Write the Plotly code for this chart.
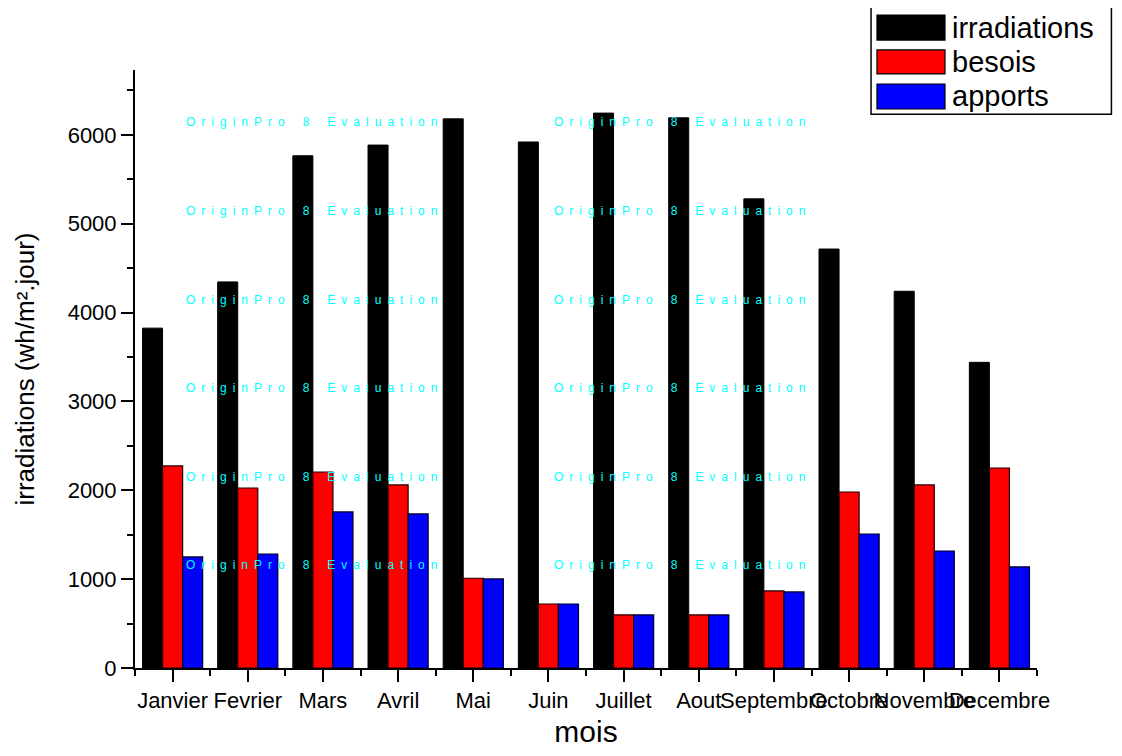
import plotly.graph_objects as go

mois = ["Janvier", "Fevrier", "Mars", "Avril", "Mai", "Juin", "Juillet",
        "Aout", "Septembre", "Octobre", "Novembre", "Decembre"]
irradiations = [3825, 4345, 5765, 5885, 6180, 5920, 6245, 6192, 5280, 4715, 4240, 3440]
besois = [2274, 2026, 2206, 2060, 1010, 720, 597, 597, 867, 1981, 2060, 2251]
apports = [1250, 1283, 1756, 1734, 1002, 720, 597, 597, 856, 1508, 1317, 1137]

x = list(range(1, len(mois) + 1))
font = "Arial, Liberation Sans, sans-serif"

fig = go.Figure()
fig.add_trace(go.Bar(x=x, y=irradiations, name="irradiations",
                     marker=dict(color="#000000", line=dict(color="#000000", width=1))))
fig.add_trace(go.Bar(x=x, y=besois, name="besois",
                     marker=dict(color="#ff0000", line=dict(color="#200000", width=1.2))))
fig.add_trace(go.Bar(x=x, y=apports, name="apports",
                     marker=dict(color="#0000ff", line=dict(color="#000020", width=1.2))))

# watermark of the original software
sp = "\u2002"
wm = sp.join("OriginPro") + sp * 3 + "8" + sp * 3 + sp.join("Evaluation")
annotations = []
for xp in [0.0543, 0.4623]:
    for yp in [0.913, 0.764, 0.615, 0.468, 0.319, 0.172]:
        annotations.append(dict(x=xp, y=yp, xref="paper", yref="paper", text=wm,
                                showarrow=False, xanchor="left", yanchor="middle",
                                font=dict(family=font, size=12, color="#00ffff")))

# legend drawn by hand, Origin style
shapes = [dict(type="rect", xref="paper", yref="paper", x0=0.816, x1=1.0825,
               y0=0.926, y1=1.105, line=dict(color="black", width=1.5),
               fillcolor="white", layer="above")]
legend_items = [("irradiations", "#000000", 1.0920, 1.0500),
                ("besois", "#ff0000", 1.0335, 0.9935),
                ("apports", "#0000ff", 0.9766, 0.9348)]
for name, col, y1, y0 in legend_items:
    shapes.append(dict(type="rect", xref="paper", yref="paper", x0=0.8226, x1=0.898,
                       y0=y0, y1=y1, fillcolor=col, line=dict(color="black", width=1.2),
                       layer="above"))
    annotations.append(dict(x=0.9035, y=(y0 + y1) / 2, xref="paper", yref="paper",
                            text=name, showarrow=False, xanchor="left", yanchor="middle",
                            font=dict(family=font, size=29, color="black")))

fig.update_layout(
    width=1106, height=740,
    margin=dict(l=127, r=77, t=62, b=80),
    paper_bgcolor="white", plot_bgcolor="white",
    barmode="group", bargap=0.2, bargroupgap=0,
    showlegend=False,
    font=dict(family=font, color="black"),
    shapes=shapes, annotations=annotations,
)
fig.update_xaxes(
    range=[0.5, 12.5], tickvals=x, ticktext=mois, tickangle=0, automargin=False,
    showgrid=False, zeroline=False,
    showline=True, linecolor="black", linewidth=2,
    ticks="outside", ticklen=12, tickwidth=2, tickcolor="black",
    minor=dict(tick0=0.5, dtick=1, ticks="outside", ticklen=6, tickwidth=2, tickcolor="black"),
    tickfont=dict(size=22, family=font),
    title=dict(text="mois", font=dict(size=30, family=font), standoff=16),
)
fig.update_yaxes(
    range=[0, 6730], dtick=1000, tick0=0, automargin=False,
    showgrid=False, zeroline=False,
    showline=True, linecolor="black", linewidth=2,
    ticks="outside", ticklen=12, tickwidth=2, tickcolor="black",
    minor=dict(dtick=500, ticks="outside", ticklen=6, tickwidth=2, tickcolor="black"),
    tickfont=dict(size=22, family=font),
    title=dict(text="irradiations (wh/m².jour)", font=dict(size=26, family=font), standoff=26),
)

fig.write_html("out.html")
